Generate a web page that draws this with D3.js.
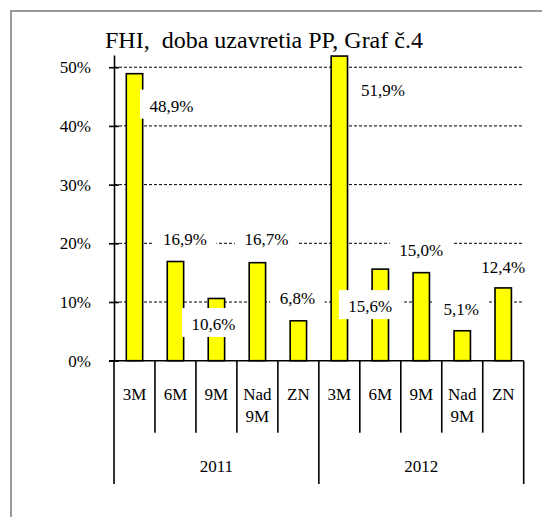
<!doctype html>
<html lang="sk">

<head>
  <meta charset="utf-8">
  <style>
    body { margin: 0; background: #fff; }
    svg text { font-family: 'Liberation Serif', 'Times New Roman', serif; fill: #000; }
  </style>
</head>

<body>
  <script src="https://d3js.org/d3.v7.min.js" charset="utf-8"></script>
  <div id="chart"></div>
  <script>
    // data
    var years = ["2011", "2012"];
    var periods = [["3M"], ["6M"], ["9M"], ["Nad", "9M"], ["ZN"]];
    var values2011 = [48.9, 16.9, 10.6, 16.7, 6.8];
    var values2012 = [51.9, 15.6, 15.0, 5.1, 12.4];
    var yTicks = [0, 10, 20, 30, 40, 50];

    // label placement (pixels, relative to bar centre / bar top)
    var labelDx = [37, 9.6, -3, 9, -1, 43.7, -10, 0, -1, 0];
    var labelDy = [38, -16.5, 31.5, -17.7, -16.8, 40, 43, -16.6, -15.8, -15.2];

    (function () {
      var width = 542, height = 517;
      var plotLeft = 114, plotRight = 523.7, plotBottom = 360.7, plotTop = 54.9;
      var serif = "'Liberation Serif', 'Times New Roman', serif";

      var rows = [];
      years.forEach(function (yr, yi) {
        var vals = yi === 0 ? values2011 : values2012;
        periods.forEach(function (p, pi) {
          rows.push({ year: yr, period: p, value: vals[pi] });
        });
      });

      var svg = d3.select("#chart").append("svg")
        .attr("width", width)
        .attr("height", height);

      svg.append("rect").attr("width", width).attr("height", height).attr("fill", "#fff");

      // outer frame (runs off the right/bottom edges)
      svg.append("rect")
        .attr("x", 11).attr("y", 11)
        .attr("width", 700).attr("height", 700)
        .attr("fill", "none")
        .attr("stroke", "#999")
        .attr("stroke-width", 2);

      var x = d3.scaleBand()
        .domain(d3.range(rows.length))
        .range([plotLeft, plotRight])
        .padding(0);

      var y = d3.scaleLinear()
        .domain([0, 52.1])
        .range([plotBottom, plotTop]);

      var bw = x.bandwidth();

      // title
      svg.append("text")
        .attr("x", 105)
        .attr("y", 48)
        .style("font-family", serif)
        .style("font-size", "24px")
        .style("white-space", "pre")
        .text("FHI,  doba uzavretia PP, Graf č.4");

      // dashed gridlines
      svg.append("g").selectAll("line")
        .data(yTicks.filter(function (d) { return d > 0; }))
        .enter().append("line")
        .attr("x1", plotLeft).attr("x2", plotRight)
        .attr("y1", function (d) { return y(d); })
        .attr("y2", function (d) { return y(d); })
        .attr("stroke", "#000")
        .attr("stroke-width", 1)
        .attr("stroke-dasharray", "3,2");

      // bars
      svg.append("g").selectAll("rect")
        .data(rows)
        .enter().append("rect")
        .attr("x", function (d, i) { return x(i) + bw * 0.3; })
        .attr("width", bw * 0.4)
        .attr("y", function (d) { return y(d.value); })
        .attr("height", function (d) { return y(0) - y(d.value); })
        .attr("fill", "#ffff00")
        .attr("stroke", "#000")
        .attr("stroke-width", 1.6);

      // y axis
      var yAxis = d3.axisLeft(y)
        .tickValues(yTicks)
        .tickFormat(function (d) { return d + "%"; })
        .tickSizeInner(5)
        .tickSizeOuter(0)
        .tickPadding(18);
      var gy = svg.append("g")
        .attr("transform", "translate(" + plotLeft + ",0)")
        .attr("font-family", null)
        .attr("font-size", null)
        .call(yAxis);
      gy.attr("font-family", null).attr("font-size", null);
      gy.select(".domain").attr("stroke", "#000").attr("stroke-width", 1.6);
      gy.selectAll(".tick line").attr("x1", -5).attr("x2", 5).attr("stroke-width", 1.6);
      gy.selectAll(".tick text")
        .style("font-family", serif)
        .style("font-size", "17px");

      // x axis line
      svg.append("line")
        .attr("x1", plotLeft - 5).attr("x2", plotRight)
        .attr("y1", y(0)).attr("y2", y(0))
        .attr("stroke", "#000").attr("stroke-width", 1.6);

      // category separators
      svg.append("g").selectAll("line")
        .data(d3.range(rows.length + 1))
        .enter().append("line")
        .attr("x1", function (i) { return plotLeft + i * bw; })
        .attr("x2", function (i) { return plotLeft + i * bw; })
        .attr("y1", y(0))
        .attr("y2", function (i) { return i % periods.length === 0 ? 484 : 432.7; })
        .attr("stroke", "#000")
        .attr("stroke-width", 1.6);

      // category labels
      var cat = svg.append("g").selectAll("text")
        .data(rows)
        .enter().append("text")
        .attr("text-anchor", "middle")
        .style("font-family", serif)
        .style("font-size", "17px");
      cat.each(function (d, i) {
        var t = d3.select(this);
        d.period.forEach(function (line, li) {
          t.append("tspan")
            .attr("x", x(i) + bw / 2)
            .attr("y", 400 + li * 21.7)
            .text(line);
        });
      });

      // year labels
      svg.append("g").selectAll("text")
        .data(years)
        .enter().append("text")
        .attr("text-anchor", "middle")
        .attr("x", function (d, yi) { return plotLeft + (yi + 0.5) * periods.length * bw; })
        .attr("y", 471.7)
        .style("font-family", serif)
        .style("font-size", "17px")
        .text(function (d) { return d; });

      // value labels with white boxes
      var fmt = d3.format(".1f");
      var lab = svg.append("g").selectAll("g")
        .data(rows)
        .enter().append("g");
      lab.each(function (d, i) {
        var g = d3.select(this);
        var cx = x(i) + bw / 2 + labelDx[i];
        var by = y(d.value) + labelDy[i];
        var box = g.append("rect").attr("fill", "#fff");
        var t = g.append("text")
          .attr("x", cx)
          .attr("y", by)
          .attr("text-anchor", "middle")
          .style("font-family", serif)
          .style("font-size", "17px")
          .text(fmt(d.value).replace(".", ",") + "%");
        var bb = t.node().getBBox();
        box.attr("x", bb.x - 9.5)
          .attr("width", bb.width + 19)
          .attr("y", by - 22)
          .attr("height", 29);
      });
    })();
  </script>
</body>

</html>
